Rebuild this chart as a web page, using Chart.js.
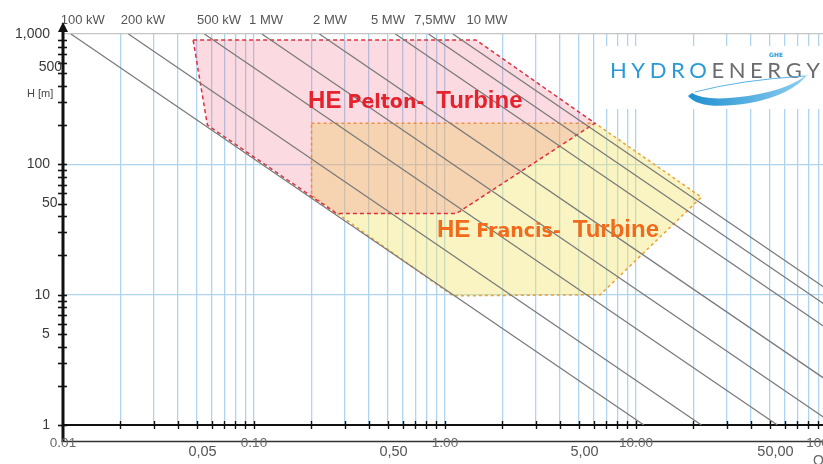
<!DOCTYPE html>
<html><head><meta charset="utf-8">
<script src="https://cdn.jsdelivr.net/npm/chart.js@4/dist/chart.umd.min.js"></script>
<style>
html,body{margin:0;padding:0;background:#fff;overflow:hidden;width:823px;height:464px}
canvas{display:block}
</style></head>
<body><canvas id="c" width="840" height="464"></canvas>
<script>
// ---------- data ----------
const powerLabels   = ['100 kW','200 kW','500 kW','1 MW','2 MW','5 MW','7,5MW','10 MW'];
const powerLabelQ   = [0.0127, 0.0262, 0.0656, 0.1156, 0.25, 0.503, 0.886, 1.66];
const powerQAtH1000 = [0.011, 0.022, 0.055, 0.11, 0.22, 0.55, 0.82, 1.1];
const powerQAtH1    = [11, 22, 55, 110, 220, 550, 820, 1100];

const peltonQ  = [0.048, 1.45, 6.1, 1.15, 0.27, 0.057];
const peltonH  = [900,   900,  207, 42,   42,   200];
const francisQ = [0.2, 6.1, 22, 6.5, 1.1, 0.2];
const francisH = [207, 207, 56, 10,  9.8, 58];

const xLabelsMain  = ['0.01','0.10','1.00','10.00','100.00'];
const xLabelsMainQ = [0.01, 0.1, 1, 10, 100];
const xLabelsHalf  = ['0,05','0,50','5,00','50,00'];
const xLabelsHalfQ = [0.05, 0.5, 5, 50];
const yLabelsMain  = ['1,000','100','10','1'];
const yLabelsMainH = [1000, 100, 10, 1];
const yLabelsHalf  = ['500','50','5'];
const yLabelsHalfH = [500, 50, 5];

const peltonText  = ['HE','Pelton-','Turbine'];
const francisText = ['HE','Francis-','Turbine'];
const peltonTextAt  = [0.192, 270];
const francisTextAt = [0.908, 27.7];

// log tick positions (1..9 per decade)
const xGridVals = [];
[0.01,0.1,1,10].forEach(d=>{for(let m=1;m<=9;m++) xGridVals.push(+(d*m).toPrecision(3));});
xGridVals.push(100);
const yTickVals = [];
[1,10,100].forEach(d=>{for(let m=1;m<=9;m++) yTickVals.push(d*m);});
yTickVals.push(1000);

// ---------- styles ----------
const gridBlue = '#aed4f0';
const lineGray = '#7a7a7a';

const pts = (qs, hs) => { const a = qs.map((q,i)=>({x:q,y:hs[i]})); a.push({x:qs[0],y:hs[0]}); return a; };

const datasets = [];
powerLabels.forEach((lab,i)=>{
  datasets.push({label:lab, data:[{x:powerQAtH1000[i],y:1000},{x:powerQAtH1[i],y:1}],
    borderColor:lineGray, borderWidth:1.25, pointRadius:0, fill:false, order:1});
});
datasets.push({label:'Pelton', data:pts(peltonQ,peltonH), borderColor:'#e0303e', borderWidth:1.5,
  borderDash:[4,3], backgroundColor:'rgba(235,90,120,0.22)', fill:'shape', pointRadius:0, order:2});
datasets.push({label:'Francis', data:pts(francisQ,francisH), borderColor:'#eea032', borderWidth:1.5,
  borderDash:[3,3], backgroundColor:'rgba(240,228,110,0.42)', fill:'shape', pointRadius:0, order:3});

const decor = {
  id:'decor',
  afterDatasetsDraw(chart){
    const {ctx, chartArea:a, scales:{x,y}} = chart;
    ctx.save();
    // ---- logo box ----
    ctx.fillStyle = '#fff';
    ctx.fillRect(600, 46, 240, 63);
    const word = 'HYDROENERGY';
    ctx.font = '22px Lato, "Open Sans", sans-serif';
    ctx.textBaseline = 'alphabetic';
    ctx.textAlign = 'left';
    const ws = [...word].map(ch=>ctx.measureText(ch).width);
    const tot = ws.reduce((s,v)=>s+v,0);
    const sp = (210 - tot)/(word.length-1);
    let cx = 610;
    [...word].forEach((ch,i)=>{
      ctx.fillStyle = i<5 ? '#2a9ad6' : '#6a6c6f';
      ctx.fillText(ch, cx, 78);
      cx += ws[i] + sp;
    });
    ctx.font = 'bold 6px "DejaVu Sans", sans-serif';
    ctx.fillStyle = '#2a9ad6';
    ctx.textAlign = 'center';
    ctx.fillText('GHE', 776, 57);
    // swoosh
    const g = ctx.createLinearGradient(688,0,808,0);
    g.addColorStop(0,'#1f8fd0'); g.addColorStop(1,'#8fd0f0');
    ctx.fillStyle = g;
    ctx.beginPath();
    ctx.moveTo(688, 96);
    ctx.quadraticCurveTo(700, 111, 750, 103);
    ctx.quadraticCurveTo(792, 95, 808, 74);
    ctx.quadraticCurveTo(788, 90, 748, 96);
    ctx.quadraticCurveTo(705, 102, 692, 93);
    ctx.closePath();
    ctx.fill();
    ctx.strokeStyle = '#5ab4e4'; ctx.lineWidth = 1;
    ctx.beginPath();
    ctx.moveTo(695, 92);
    ctx.quadraticCurveTo(740, 80, 805, 76);
    ctx.stroke();

    // ---- turbine labels ----
    const drawLabel = (parts, at, color) => {
      let px = x.getPixelForValue(at[0]);
      const py = y.getPixelForValue(at[1]);
      const fonts = ['bold 24px "Liberation Sans", Arial, sans-serif',
                     'bold 19px "DejaVu Sans", sans-serif',
                     'bold 24px "Liberation Sans", Arial, sans-serif'];
      const gaps = [6, 12, 0];
      ctx.fillStyle = color; ctx.textAlign = 'left'; ctx.textBaseline = 'alphabetic';
      parts.forEach((t,i)=>{ ctx.font = fonts[i]; ctx.fillText(t, px, py); px += ctx.measureText(t).width + gaps[i]; });
    };
    drawLabel(peltonText, peltonTextAt, '#e5232e');
    drawLabel(francisText, francisTextAt, '#f26a1b');

    // ---- power labels on top ----
    ctx.font = '13px "Liberation Sans", Arial, sans-serif';
    ctx.fillStyle = '#555'; ctx.textAlign = 'center'; ctx.textBaseline = 'middle';
    powerLabels.forEach((t,i)=>ctx.fillText(t, x.getPixelForValue(powerLabelQ[i]), a.top - 14));

    // ---- y axis ----
    ctx.strokeStyle = '#111'; ctx.lineWidth = 3;
    ctx.beginPath(); ctx.moveTo(a.left, a.top - 6); ctx.lineTo(a.left, a.bottom + 17); ctx.stroke();
    ctx.fillStyle = '#111';
    ctx.beginPath(); ctx.moveTo(a.left, a.top - 12); ctx.lineTo(a.left - 5, a.top - 2); ctx.lineTo(a.left + 5, a.top - 2); ctx.closePath(); ctx.fill();
    ctx.lineWidth = 1.6;
    yTickVals.forEach(v=>{
      if (v === 1000) return;
      const py = Math.round(y.getPixelForValue(v)) + 0.5;
      ctx.beginPath(); ctx.moveTo(a.left - 5, py); ctx.lineTo(a.left + 4, py); ctx.stroke();
    });
    ctx.font = '14px "Liberation Sans", Arial, sans-serif';
    ctx.fillStyle = '#3a3a3a'; ctx.textBaseline = 'middle';
    ctx.textAlign = 'right';
    yLabelsMain.forEach((t,i)=>ctx.fillText(t, a.left - 13, y.getPixelForValue(yLabelsMainH[i])));
    ctx.textAlign = 'left';
    yLabelsHalf.forEach((t,i)=>{
      const w = ctx.measureText(t).width;
      const lx = Math.min(a.left - 21, a.left - 1 - w);
      const off = yLabelsHalfH[i] === 500 ? -6 : 0;
      ctx.fillText(t, lx, y.getPixelForValue(yLabelsHalfH[i]) + off);
    });
    ctx.font = '11px "Liberation Sans", Arial, sans-serif';
    ctx.fillStyle = '#444';
    ctx.fillText('H [m]', 27, y.getPixelForValue(350) + 1);

    // ---- x axis ----
    ctx.strokeStyle = '#111'; ctx.lineWidth = 1.4;
    xGridVals.forEach(v=>{
      if (v <= 0.0101) return;
      const px = Math.round(x.getPixelForValue(v)) + 0.5;
      ctx.beginPath(); ctx.moveTo(px, a.bottom - 4); ctx.lineTo(px, a.bottom + 4); ctx.stroke();
    });
    ctx.strokeStyle = '#333'; ctx.lineWidth = 1.5;
    ctx.beginPath(); ctx.moveTo(a.left, a.bottom + 16.5); ctx.lineTo(a.right + 20, a.bottom + 16.5); ctx.stroke();
    ctx.font = '13.5px "Liberation Sans", Arial, sans-serif';
    ctx.fillStyle = '#6a6a6a'; ctx.textAlign = 'center'; ctx.textBaseline = 'middle';
    xLabelsMain.forEach((t,i)=>ctx.fillText(t, x.getPixelForValue(xLabelsMainQ[i]), a.bottom + 18));
    ctx.font = '14.5px "Liberation Sans", Arial, sans-serif';
    ctx.fillStyle = '#555';
    xLabelsHalf.forEach((t,i)=>ctx.fillText(t, x.getPixelForValue(xLabelsHalfQ[i]) + 6, a.bottom + 27));
    ctx.font = '14px "Liberation Sans", Arial, sans-serif';
    ctx.fillStyle = '#666'; ctx.textAlign = 'left'; ctx.textBaseline = 'top';
    ctx.fillText('Q', 813, a.bottom + 29);
    ctx.restore();
  }
};

new Chart(document.getElementById('c'), {
  type: 'line',
  data: { datasets },
  options: {
    responsive: false, animation: false, devicePixelRatio: 1,
    layout: { padding: { top: 34, right: 13, left: 0, bottom: 0 } },
    plugins: { legend: { display: false }, tooltip: { enabled: false } },
    elements: { line: { tension: 0 } },
    scales: {
      x: {
        type: 'logarithmic', min: 0.01, max: 100, position: 'bottom',
        afterBuildTicks: s => { s.ticks = xGridVals.map(v => ({ value: v })); },
        afterFit: s => { s.height = 39; },
        ticks: { display: false },
        grid: { color: c => (c.tick && c.tick.value > 0.0101) ? gridBlue : 'rgba(0,0,0,0)', lineWidth: 1.3, drawTicks: false },
        border: { display: true, color: '#111', width: 2 }
      },
      y: {
        type: 'logarithmic', min: 1, max: 1000, position: 'left',
        afterBuildTicks: s => { s.ticks = yTickVals.map(v => ({ value: v })); },
        afterFit: s => { s.width = 63; },
        ticks: { display: false },
        grid: { color: c => { const v = c.tick && c.tick.value; return (v === 10 || v === 100) ? gridBlue : (v === 1000 ? '#c4c4c4' : 'rgba(0,0,0,0)'); }, lineWidth: 1.3, drawTicks: false },
        border: { display: false }
      }
    }
  },
  plugins: [decor]
});
</script>
</body></html>
